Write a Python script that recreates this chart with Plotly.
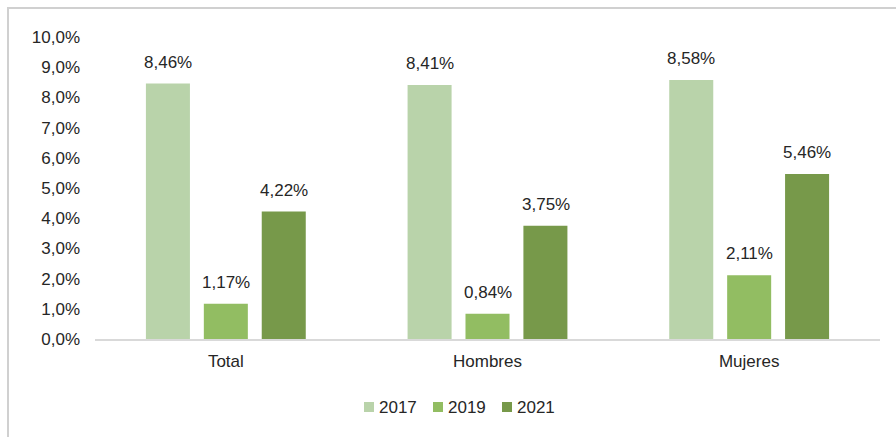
import plotly.graph_objects as go

categories = ["Total", "Hombres", "Mujeres"]
years = ["2017", "2019", "2021"]
v2017 = [0.0846, 0.0841, 0.0858]
v2019 = [0.0117, 0.0084, 0.0211]
v2021 = [0.0422, 0.0375, 0.0546]
y_ticks = [i / 100 for i in range(0, 11)]

colors = ["#B9D3AA", "#92BD62", "#77994A"]
series = [v2017, v2019, v2021]
FONT = "Liberation Sans, Arial"

W, H = 896, 437
ml, mr, mt, mb = 95, 16, 37, 98
pw, ph = W - ml - mr, H - mt - mb


def px_x(p):
    return (p - ml) / pw


def px_y(p):
    return (H - mb - p) / ph


fig = go.Figure()
for name, vals, col in zip(years, series, colors):
    fig.add_trace(go.Bar(x=categories, y=vals, name=name, marker_color=col,
                         marker_line_width=0, showlegend=False))

offsets = [-58, 0, 58]
for vals, off in zip(series, offsets):
    for c, v in zip(categories, vals):
        fig.add_annotation(x=c, y=v, text=f"{v*100:.2f}%".replace(".", ","),
                           showarrow=False, xshift=off, yshift=10, yanchor="bottom",
                           font=dict(size=17, color="#262626", family=FONT))

# outer frame
fig.add_shape(type="rect", xref="paper", yref="paper",
              x0=px_x(8), x1=px_x(W + 4), y0=px_y(H + 4), y1=px_y(8),
              line=dict(color="#D0D0D0", width=2), layer="below")

# manual legend
leg_start = [364, 433, 502]
for name, col, sx in zip(years, colors, leg_start):
    fig.add_shape(type="rect", xref="paper", yref="paper",
                  x0=px_x(sx), x1=px_x(sx + 10), y0=px_y(412), y1=px_y(402),
                  fillcolor=col, line=dict(width=0))
    fig.add_annotation(xref="paper", yref="paper", x=px_x(sx + 13), y=px_y(407),
                       xanchor="left", yanchor="middle", text=name, showarrow=False,
                       font=dict(size=17, color="#262626", family=FONT))

fig.update_layout(
    width=W, height=H, margin=dict(l=ml, r=mr, t=mt, b=mb, autoexpand=False),
    paper_bgcolor="white", plot_bgcolor="white",
    separators=", ",
    barmode="group", bargap=0.336, bargroupgap=0.24,
    font=dict(family=FONT, size=17, color="#262626"),
    showlegend=False,
    xaxis=dict(showline=True, linecolor="#D9D9D9", linewidth=1.5, showgrid=False,
               ticks="", tickfont=dict(size=17), automargin=False, ticklabelstandoff=6),
    yaxis=dict(range=[0, 0.1], tickvals=y_ticks, tickformat=".1%", showgrid=False,
               showline=False, zeroline=False, ticklabelstandoff=14,
               tickfont=dict(size=17), automargin=False),
)

fig.write_html("out.html", config={"displayModeBar": False},
               post_script="document.body.style.margin='0';document.body.style.overflow='hidden';")
